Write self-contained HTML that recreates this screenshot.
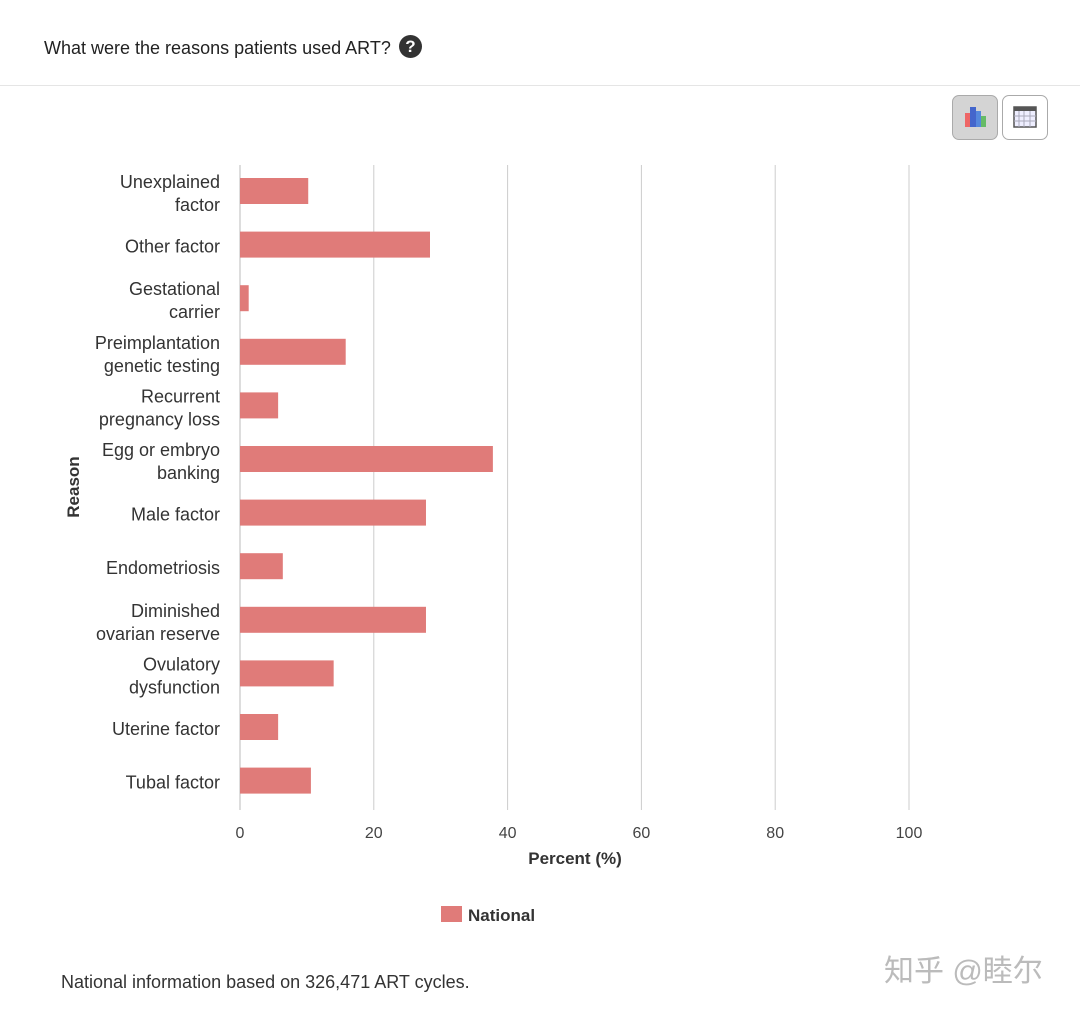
<!DOCTYPE html>
<html><head><meta charset="utf-8"><style>
body{margin:0;width:1080px;height:1009px;background:#fff;font-family:"Liberation Sans",sans-serif;overflow:hidden;position:relative}
.title{position:absolute;left:44px;top:38px;font-size:18px;color:#222}
.help{position:absolute;left:399px;top:35px;width:23px;height:23px;border-radius:50%;background:#333;color:#fff;font-weight:bold;font-size:17px;text-align:center;line-height:23px}
.hr{position:absolute;left:0;top:85px;width:1080px;height:1px;background:#e5e5e5}
.btn{position:absolute;top:95px;width:46px;height:45px;border:1px solid #aaa;border-radius:7px;box-sizing:border-box}
.foot{position:absolute;left:61px;top:972px;font-size:18px;color:#333}
.wm{position:absolute;left:884px;top:946px;font-size:30px;color:#bbb;font-family:"Liberation Sans","Noto Sans CJK SC",sans-serif}
</style></head><body>
<div class="title">What were the reasons patients used ART?</div>
<div class="help">?</div>
<div class="hr"></div>
<div class="btn" style="left:952px;background:#d4d4d4">
<svg width="44" height="43"><rect x="12" y="17" width="5" height="14" fill="#e66"/><rect x="17" y="11" width="6" height="20" fill="#46c"/><rect x="23" y="15" width="5" height="16" fill="#58d"/><rect x="28" y="20" width="5" height="11" fill="#6b6"/></svg></div>
<div class="btn" style="left:1002px;background:#fff">
<svg width="44" height="43"><rect x="11" y="11" width="22" height="20" fill="#eef" stroke="#555" stroke-width="1.5"/><rect x="11" y="11" width="22" height="4" fill="#555"/><g stroke="#aab" stroke-width="1"><line x1="16" y1="15" x2="16" y2="31"/><line x1="21" y1="15" x2="21" y2="31"/><line x1="27" y1="15" x2="27" y2="31"/><line x1="11" y1="20" x2="33" y2="20"/><line x1="11" y1="25" x2="33" y2="25"/></g></svg></div>
<svg id="chart" width="1080" height="1009" style="position:absolute;left:0;top:0"></svg>
<div class="foot">National information based on 326,471 ART cycles.</div>
<div class="wm">知乎 @睦尔</div>
<script>
const categories=[["Unexplained","factor"],["Other factor"],["Gestational","carrier"],["Preimplantation","genetic testing"],["Recurrent","pregnancy loss"],["Egg or embryo","banking"],["Male factor"],["Endometriosis"],["Diminished","ovarian reserve"],["Ovulatory","dysfunction"],["Uterine factor"],["Tubal factor"]];
const values=[10.2,28.4,1.3,15.8,5.7,37.8,27.8,6.4,27.8,14.0,5.7,10.6];
const ticks=[0,20,40,60,80,100];
const NS="http://www.w3.org/2000/svg";
const svg=document.getElementById('chart');
const x0=240,x1=909,top0=165,band=53.6;
const xs=v=>x0+(x1-x0)*v/100;
const yc=i=>top0+26+band*i;
function mk(t,a,txt){const e=document.createElementNS(NS,t);for(const k in a)e.setAttribute(k,a[k]);if(txt!=null)e.textContent=txt;svg.appendChild(e);return e;}
ticks.forEach(t=>{
const g=mk('line',{x1:xs(t),x2:xs(t),y1:top0,y2:810,stroke:t===0?'#bbb':'#ccc','stroke-width':1});


const l=mk('text',{x:xs(t),y:838,'text-anchor':'middle','font-size':16,fill:'#444'},t);


});
values.forEach((v,i)=>{
const r=mk('rect',{x:x0,y:yc(i)-13,width:xs(v)-x0,height:26,fill:'#e07b79'});


const c=categories[i];
const t=mk('text',{x:220,'text-anchor':'end','font-size':18,fill:'#333'});


c.forEach((s,j)=>{const ts=document.createElementNS(NS,'tspan');ts.setAttribute('x',220);ts.setAttribute('y',yc(i)+8+(c.length===2?(j===0?-11:12):0));ts.textContent=s;t.appendChild(ts);});
});
const xt=mk('text',{x:575,y:864,'text-anchor':'middle','font-size':17,'font-weight':'bold',fill:'#333'},'Percent (%)');


const yt=mk('text',{x:79,y:487,'text-anchor':'middle','font-size':17,'font-weight':'bold',fill:'#333',transform:'rotate(-90 79 487)'},'Reason');


const lr=mk('rect',{x:441,y:906,width:21,height:16,fill:'#e07b79'});


const lt=mk('text',{x:468,y:921,'font-size':17,'font-weight':'bold',fill:'#333'},'National');


</script>
</body></html>
